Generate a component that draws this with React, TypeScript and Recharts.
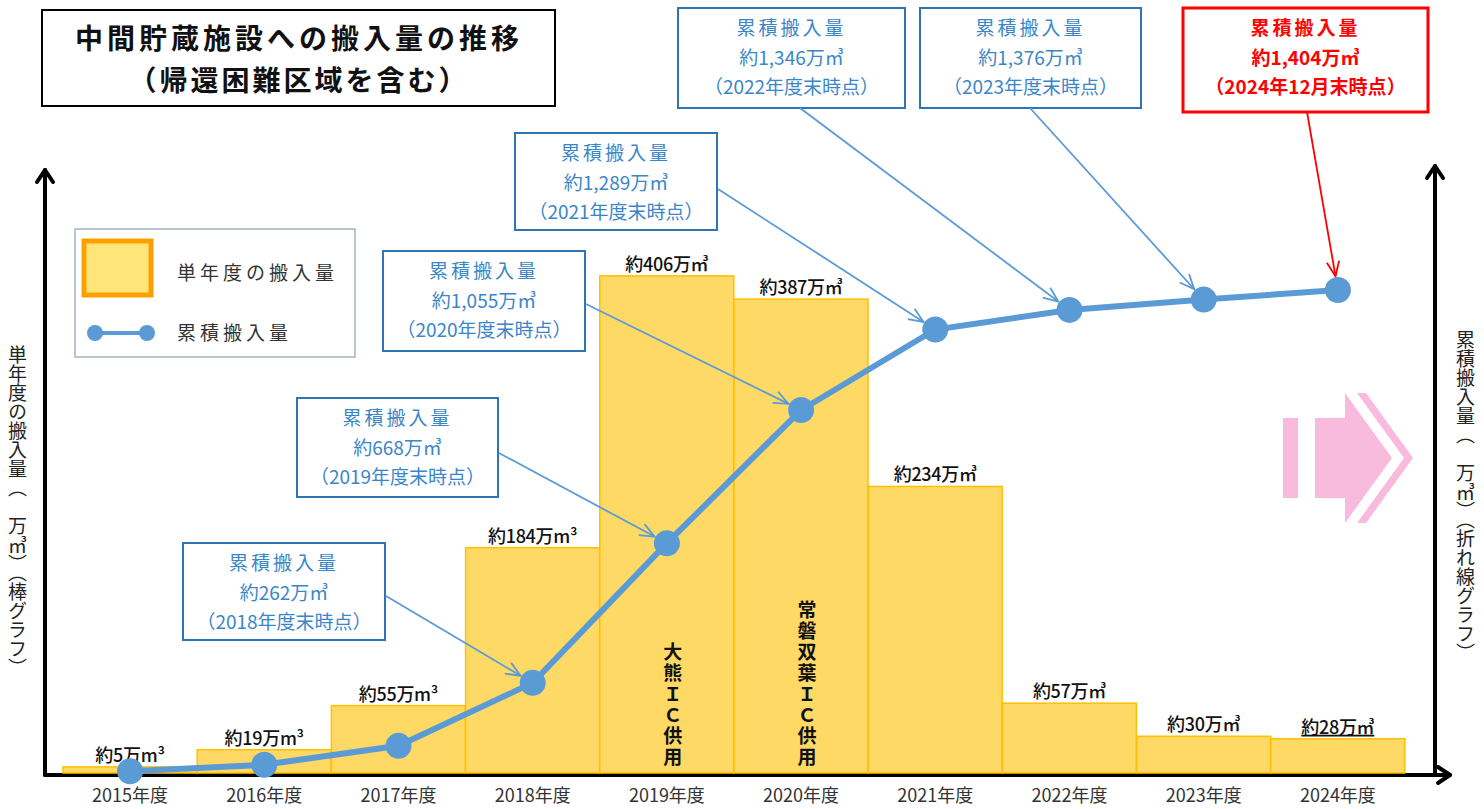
import React from 'react';
import { ComposedChart, Bar, Line, XAxis, YAxis } from 'recharts';

// data (unit: 万m3)
const years = ['2015年度', '2016年度', '2017年度', '2018年度', '2019年度', '2020年度', '2021年度', '2022年度', '2023年度', '2024年度'];
const annual = [5, 19, 55, 184, 406, 387, 234, 57, 30, 28];
const cumulative = [5, 24, 79, 262, 668, 1055, 1289, 1346, 1376, 1404];
const barUnits = ['万m³', '万m³', '万m³', '万m³', '万㎥', '万㎥', '万㎥', '万㎥', '万㎥', '万㎥'];
const barNotes = ['', '', '', '', '大熊ＩＣ供用', '常磐双葉ＩＣ供用', '', '', '', ''];
const asOf = ['', '', '', '2018年度末時点', '2019年度末時点', '2020年度末時点', '2021年度末時点', '2022年度末時点', '2023年度末時点', '2024年12月末時点'];

const FONT = "'Noto Sans CJK JP', 'Noto Sans', sans-serif";
const BLUE = '#5B9BD5';
const BOX_BLUE = '#2E75B6';
const TEXT_BLUE = '#3A86C8';

// callout box placement, keyed by point index
const calloutLayout: Record<number, { x: number; y: number; w: number; h: number; ax: number; ay: number; red?: boolean }> = {
  3: { x: 183, y: 543, w: 202, h: 97, ax: 386, ay: 596 },
  4: { x: 297, y: 398, w: 201, h: 99, ax: 499, ay: 453 },
  5: { x: 383, y: 251, w: 202, h: 100, ax: 586, ay: 304 },
  6: { x: 515, y: 133, w: 202, h: 97, ax: 718, ay: 189 },
  7: { x: 678, y: 8, w: 227, h: 100, ax: 800, ay: 108 },
  8: { x: 920, y: 8, w: 221, h: 100, ax: 1030, ay: 108 },
  9: { x: 1183, y: 8, w: 245, h: 104, ax: 1307, ay: 112, red: true },
};

const data = years.map((year, i) => ({
  year,
  annual: annual[i],
  cumulative: cumulative[i],
}));

function Callout({ index, cx, cy }: { index: number; cx: number; cy: number }) {
  const c = calloutLayout[index];
  if (!c) return null;
  const stroke = c.red ? '#FF0000' : BOX_BLUE;
  const color = c.red ? '#FF0000' : TEXT_BLUE;
  const weight = c.red ? 700 : 400;
  const dx = cx - c.ax;
  const dy = cy - c.ay;
  const len = Math.sqrt(dx * dx + dy * dy);
  const ux = dx / len;
  const uy = dy / len;
  const ex = cx - ux * 14;
  const ey = cy - uy * 14;
  const head = 16;
  const ang = 0.4;
  const h1x = ex - head * (ux * Math.cos(ang) - uy * Math.sin(ang));
  const h1y = ey - head * (uy * Math.cos(ang) + ux * Math.sin(ang));
  const h2x = ex - head * (ux * Math.cos(-ang) - uy * Math.sin(-ang));
  const h2y = ey - head * (uy * Math.cos(-ang) + ux * Math.sin(-ang));
  const mid = c.x + c.w / 2;
  return (
    <g>
      <rect x={c.x} y={c.y} width={c.w} height={c.h} fill="#fff" stroke={stroke} strokeWidth={c.red ? 3 : 2} />
      <line x1={c.ax} y1={c.ay} x2={ex} y2={ey} stroke={c.red ? '#FF0000' : BLUE} strokeWidth={1.8} />
      <polyline points={`${h1x},${h1y} ${ex},${ey} ${h2x},${h2y}`} fill="none" stroke={c.red ? '#FF0000' : BLUE} strokeWidth={1.8} />
      <g fontFamily={FONT} fontSize={19} fill={color} fontWeight={weight} textAnchor="middle">
        <text x={mid} y={c.y + 27} letterSpacing={3}>累積搬入量</text>
        <text x={mid} y={c.y + 57}>約{cumulative[index].toLocaleString('en-US')}万㎥</text>
        <text x={mid} y={c.y + 86}>（{asOf[index]}）</text>
      </g>
    </g>
  );
}

const renderDot = (props: any) => {
  const { cx, cy, index } = props;
  return (
    <g key={`dot-${index}`}>
      <Callout index={index} cx={cx} cy={cy} />
      <circle cx={cx} cy={cy} r={13} fill={BLUE} />
    </g>
  );
};

const renderBar = (props: any) => {
  const { x, y, width, height, index } = props;
  const note = barNotes[index] || '';
  const bottom = y + height;
  return (
    <g>
      <rect x={x} y={y} width={width} height={height} fill="#FFD966" stroke="#FFC000" strokeWidth={1.5} />
      <text
        x={x + width / 2}
        y={y - 5}
        textAnchor="middle"
        fontFamily={FONT}
        fontSize={18}
        fontWeight={500}
        fill="#111"
        letterSpacing={-0.3}
        textDecoration={index === 9 ? 'underline' : undefined}
      >
        約{annual[index]}{barUnits[index]}
      </text>
      {note && (
        <text
          x={x + width / 2 + 6}
          y={bottom - 5}
          textAnchor="end"
          fontFamily={FONT}
          fontSize={19}
          fontWeight={700}
          fill="#111"
          letterSpacing={2}
          style={{ writingMode: 'vertical-rl' }}
        >
          {note}
        </text>
      )}
    </g>
  );
};

const verticalTitle: React.CSSProperties = {
  position: 'absolute',
  writingMode: 'vertical-rl',
  fontFamily: FONT,
  fontSize: 19,
  color: '#222',
  lineHeight: 1,
};

export default function App() {
  return (
    <div style={{ position: 'absolute', left: 0, top: 0, width: 1484, height: 809, background: '#fff', overflow: 'hidden' }}>
      {/* axis frame with arrows, drawn under the chart */}
      <svg width={1484} height={809} style={{ position: 'absolute', left: 0, top: 0 }}>
        <g stroke="#000" strokeWidth={4} fill="none" strokeLinecap="round" strokeLinejoin="round">
          <line x1={45} y1={775} x2={45} y2={170} />
          <polyline points="37,182 45,170 53,182" />
          <line x1={1435} y1={775} x2={1435} y2={166} />
          <polyline points="1427,178 1435,166 1443,178" />
          <line x1={45} y1={775} x2={1450} y2={775} />
          <polyline points="1438,767 1450,775 1438,783" />
        </g>
      </svg>

      <div style={{ position: 'absolute', left: 0, top: 0 }}>
        <ComposedChart
          width={1484}
          height={809}
          data={data}
          margin={{ top: 173, right: 49, bottom: 0, left: 45 }}
          barCategoryGap={0}
        >
          <XAxis
            dataKey="year"
            height={36}
            padding={{ left: 18, right: 30 }}
            axisLine={false}
            tickLine={false}
            tickMargin={10}
            interval={0}
            tick={{ fontSize: 18, fill: '#333', fontFamily: FONT }}
          />
          <YAxis yAxisId="left" domain={[0, 490]} hide />
          <YAxis yAxisId="right" orientation="right" domain={[0, 1744]} hide />
          <Bar yAxisId="left" dataKey="annual" shape={renderBar} isAnimationActive={false} />
          <Line
            yAxisId="right"
            dataKey="cumulative"
            stroke={BLUE}
            strokeWidth={6}
            dot={renderDot}
            activeDot={false}
            isAnimationActive={false}
          />
        </ComposedChart>
      </div>

      {/* title, legend and decorations */}
      <svg width={1484} height={809} style={{ position: 'absolute', left: 0, top: 0, pointerEvents: 'none' }}>
        <rect x={42} y={10} width={513} height={96} fill="#fff" stroke="#000" strokeWidth={2} />
        <g fontFamily={FONT} fontWeight={700} fill="#111" textAnchor="middle" fontSize={28}>
          <text x={299} y={49} letterSpacing={4}>中間貯蔵施設への搬入量の推移</text>
          <text x={299} y={91} letterSpacing={3}>（帰還困難区域を含む）</text>
        </g>

        <rect x={75} y={229} width={280} height={128} fill="#fff" stroke="#8EA0B4" strokeWidth={1.2} />
        <rect x={84} y={241} width={67} height={54} fill="#FFE57A" stroke="#FFA000" strokeWidth={5} />
        <line x1={95} y1={333} x2={147} y2={333} stroke={BLUE} strokeWidth={4} />
        <circle cx={95} cy={333} r={8} fill={BLUE} />
        <circle cx={147} cy={333} r={8} fill={BLUE} />
        <g fontFamily={FONT} fontSize={19} fill="#333" letterSpacing={4}>
          <text x={177} y={280}>単年度の搬入量</text>
          <text x={177} y={340}>累積搬入量</text>
        </g>

        <g fill="#F9B4DA" opacity={0.9}>
          <rect x={1283} y={418} width={15} height={80} />
          <polygon points="1315,418 1345,418 1345,393 1392,458 1345,523 1345,498 1315,498" />
          <polygon points="1357,393 1366,393 1413,458 1366,523 1357,523 1404,458" />
        </g>
      </svg>

      <div style={{ ...verticalTitle, left: 8, top: 345 }}>単年度の搬入量（　万㎥）（棒グラフ）</div>
      <div style={{ ...verticalTitle, left: 1456, top: 330 }}>累積搬入量（　万㎥）（折れ線グラフ）</div>
    </div>
  );
}
